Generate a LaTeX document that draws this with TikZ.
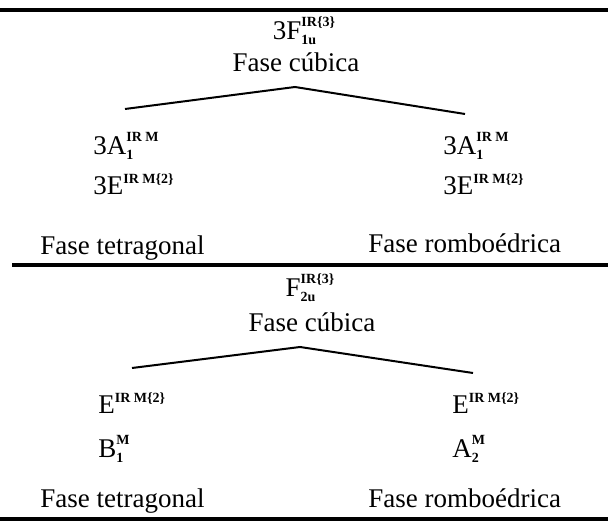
\documentclass[tikz,border=0pt]{standalone}
\usepackage{fontspec}
\setmainfont{Liberation Serif}
\usetikzlibrary{positioning}
\newcommand{\idx}[1]{{\fontsize{7}{8}\selectfont\bfseries #1}}
\newcommand{\supsub}[2]{\makebox[0pt][l]{\raisebox{-2.5pt}{\idx{#2}}}\raisebox{6.5pt}{\idx{#1}}}
\newcommand{\supr}[1]{\raisebox{5.5pt}{\idx{#1}}}

\begin{document}
\begin{tikzpicture}[x=0.5pt, y=-0.5pt,
  lbl/.style={font=\fontsize{13.5}{15}\selectfont, inner sep=0pt},
  regla/.style={line width=1.6pt},
  rama/.style={line width=1pt}
]
  \useasboundingbox (0,0) rectangle (608,522);
  % reglas horizontales
  \draw[regla] (0,10) -- (608,10);
  \draw[regla] (12,265) -- (608,265);
  \draw[regla] (0,519) -- (608,519);
  % bloque superior
  \node[lbl, anchor=base] (rep1) at (304,40) {3F\supsub{IR\{3\}}{1u}};
  \node[lbl, anchor=base] (cub1) at (296,72) {Fase cúbica};
  \node[lbl, anchor=base west] (a1l) at (93,155) {3A\supsub{IR M}{1}};
  \node[lbl, anchor=base west] (e1l) at (93,195) {3E\supr{IR M\{2\}}};
  \node[lbl, anchor=base west] (a1r) at (443,155) {3A\supsub{IR M}{1}};
  \node[lbl, anchor=base west] (e1r) at (443,195) {3E\supr{IR M\{2\}}};
  \node[lbl, anchor=base west] (tet1) at (40,255) {Fase tetragonal};
  \node[lbl, anchor=base west] (rom1) at (368,253) {Fase romboédrica};
  \coordinate (cima1) at (295,87);
  \coordinate (izq1) at (125,109);
  \coordinate (der1) at (465,114);
  \draw[rama] (izq1) -- (cima1) -- (der1);
  % bloque inferior
  \node[lbl, anchor=base] (rep2) at (310,297) {F\supsub{IR\{3\}}{2u}};
  \node[lbl, anchor=base] (cub2) at (312,332) {Fase cúbica};
  \node[lbl, anchor=base west] (e2l) at (98,413) {E\supr{IR M\{2\}}};
  \node[lbl, anchor=base west] (b2l) at (98,457) {B\supsub{M}{1}};
  \node[lbl, anchor=base west] (e2r) at (452,413) {E\supr{IR M\{2\}}};
  \node[lbl, anchor=base west] (a2r) at (452,457) {A\supsub{M}{2}};
  \node[lbl, anchor=base west] (tet2) at (40,507) {Fase tetragonal};
  \node[lbl, anchor=base west] (rom2) at (368,507) {Fase romboédrica};
  \coordinate (cima2) at (300,347);
  \coordinate (izq2) at (132,368);
  \coordinate (der2) at (473,373);
  \draw[rama] (izq2) -- (cima2) -- (der2);
\end{tikzpicture}
\end{document}
